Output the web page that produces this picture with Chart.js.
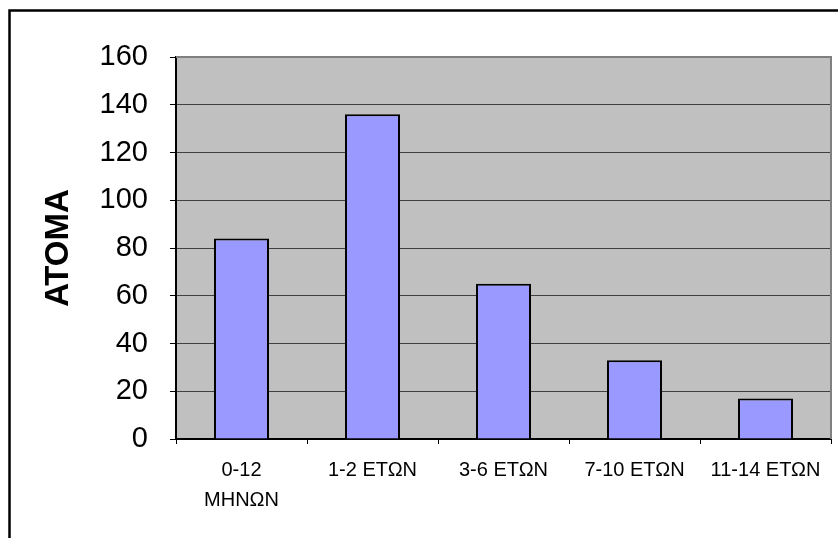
<!DOCTYPE html>
<html>
<head>
<meta charset="utf-8">
<script src="https://cdn.jsdelivr.net/npm/chart.js@4/dist/chart.umd.min.js"></script>
<style>
  html, body { margin: 0; padding: 0; background: #ffffff; }
  #wrap { width: 838px; height: 538px; position: relative; }
</style>
</head>
<body>
<div id="wrap"><canvas id="c" width="838" height="538"></canvas></div>
<script>
// Age groups and number of persons per group
const categories = [["0-12", "ΜΗΝΩΝ"], "1-2 ΕΤΩΝ", "3-6 ΕΤΩΝ", "7-10 ΕΤΩΝ", "11-14 ΕΤΩΝ"];
const persons = [84, 136, 65, 33, 17];
const yTicks = [0, 20, 40, 60, 80, 100, 120, 140, 160];
const yTitle = "ΑΤΟΜΑ";

const FONT = "'Liberation Sans', Arial, sans-serif";

// Grey plot background, plot frame and the outer chart frame
const framePlugin = {
  id: 'frames',
  beforeDraw(chart) {
    const { ctx, chartArea: a } = chart;
    ctx.save();
    ctx.fillStyle = '#ffffff';
    ctx.fillRect(0, 0, chart.width, chart.height);
    ctx.fillStyle = '#c0c0c0';
    ctx.fillRect(a.left, a.top, a.right - a.left, a.bottom - a.top);
    ctx.restore();
  },
  afterDatasetsDraw(chart) {
    const { ctx, chartArea: a } = chart;
    ctx.save();
    ctx.strokeStyle = '#808080';
    ctx.lineWidth = 2;
    ctx.beginPath();
    ctx.moveTo(a.left, a.top);
    ctx.lineTo(a.right, a.top);
    ctx.lineTo(a.right, a.bottom);
    ctx.stroke();
    ctx.restore();
  },
  afterDraw(chart) {
    const { ctx } = chart;
    ctx.save();
    ctx.strokeStyle = '#000000';
    ctx.lineWidth = 2.5;
    ctx.beginPath();
    ctx.moveTo(9.5, chart.height + 5);
    ctx.lineTo(9.5, 10.5);
    ctx.lineTo(chart.width + 5, 10.5);
    ctx.stroke();
    ctx.restore();
  }
};

new Chart(document.getElementById('c'), {
  type: 'bar',
  data: {
    labels: categories,
    datasets: [{
      data: persons,
      backgroundColor: '#9999ff',
      borderColor: '#000000',
      borderWidth: 2,
      barPercentage: 0.42,
      categoryPercentage: 1.0
    }]
  },
  options: {
    responsive: false,
    animation: false,
    devicePixelRatio: 1,
    layout: { padding: { left: 0, right: 7, top: 57, bottom: 0 } },
    plugins: { legend: { display: false }, tooltip: { enabled: false } },
    scales: {
      x: {
        offset: true,
        grid: {
          offset: true,
          drawOnChartArea: false,
          drawTicks: true,
          tickLength: 5,
          tickColor: '#000000',
          tickWidth: 1
        },
        border: { display: true, color: '#000000', width: 2 },
        ticks: {
          color: '#000000',
          font: { family: FONT, size: 20, lineHeight: 1.5 },
          padding: 11,
          maxRotation: 0,
          autoSkip: false
        },
        afterFit(scale) { scale.height = 99; }
      },
      y: {
        min: 0,
        max: 160,
        afterBuildTicks(scale) { scale.ticks = yTicks.map(v => ({ value: v })); },
        grid: {
          color: '#404040',
          lineWidth: 1,
          drawTicks: true,
          tickLength: 6,
          tickColor: '#000000'
        },
        border: { display: true, color: '#000000', width: 2 },
        ticks: {
          color: '#000000',
          font: { family: FONT, size: 29 },
          padding: 22
        },
        title: {
          display: true,
          text: yTitle,
          color: '#000000',
          font: { family: FONT, size: 33, weight: 'bold', lineHeight: 1.2 },
          padding: { top: 39, bottom: 0 }
        },
        afterFit(scale) { scale.width = 176; }
      }
    }
  },
  plugins: [framePlugin]
});
</script>
</body>
</html>
